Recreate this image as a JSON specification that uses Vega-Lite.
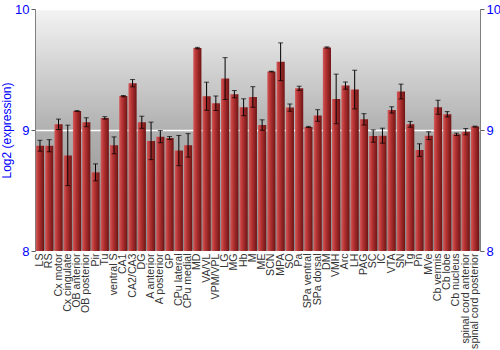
{
  "$schema": "https://vega.github.io/schema/vega-lite/v6.json",
  "autosize": {"type": "none"},
  "width": 445,
  "height": 242,
  "padding": {"left": 35, "top": 9, "right": 20, "bottom": 99},
  "background": "white",
  "config": {
    "font": "Liberation Sans",
    "view": {"stroke": "#808080", "strokeWidth": 1,
      "fill": {"gradient": "linear", "x1": 0, "y1": 0, "x2": 0, "y2": 1,
        "stops": [{"offset": 0, "color": "#f3f3f3"}, {"offset": 0.5, "color": "#b0b0b0"}, {"offset": 1, "color": "#888888"}]}}
  },
  "data": {"values": [
    {"region": "LS", "value": 8.87, "err": 0.045},
    {"region": "RS", "value": 8.87, "err": 0.05},
    {"region": "Cx motor", "value": 9.047, "err": 0.043},
    {"region": "Cx cingulate", "value": 8.79, "err": 0.25},
    {"region": "OB anterior", "value": 9.157, "err": 0.003},
    {"region": "OB posterior", "value": 9.064, "err": 0.037},
    {"region": "Pir", "value": 8.65, "err": 0.07},
    {"region": "Tu", "value": 9.10, "err": 0.01},
    {"region": "ventral S", "value": 8.873, "err": 0.07},
    {"region": "CA1", "value": 9.28, "err": 0.005},
    {"region": "CA2/CA3", "value": 9.387, "err": 0.03},
    {"region": "DG", "value": 9.064, "err": 0.05},
    {"region": "A anterior", "value": 8.91, "err": 0.155},
    {"region": "A posterior", "value": 8.945, "err": 0.05},
    {"region": "GP", "value": 8.934, "err": 0.012},
    {"region": "CPu lateral", "value": 8.83, "err": 0.125},
    {"region": "CPu medial", "value": 8.873, "err": 0.097},
    {"region": "MD", "value": 9.677, "err": 0.006},
    {"region": "VA/VL", "value": 9.279, "err": 0.116},
    {"region": "VPM/VPL", "value": 9.221, "err": 0.06},
    {"region": "LG", "value": 9.425, "err": 0.173},
    {"region": "MG", "value": 9.296, "err": 0.03},
    {"region": "Hb", "value": 9.188, "err": 0.07},
    {"region": "M", "value": 9.273, "err": 0.085},
    {"region": "ME", "value": 9.041, "err": 0.043},
    {"region": "SCN", "value": 9.483, "err": 0.003},
    {"region": "MPA", "value": 9.564, "err": 0.156},
    {"region": "SO", "value": 9.185, "err": 0.03},
    {"region": "Pa", "value": 9.345, "err": 0.017},
    {"region": "SPa ventral", "value": 9.025, "err": 0.005},
    {"region": "SPa dorsal", "value": 9.12, "err": 0.048},
    {"region": "DM", "value": 9.682, "err": 0.005},
    {"region": "VMH", "value": 9.257, "err": 0.205},
    {"region": "Arc", "value": 9.367, "err": 0.03},
    {"region": "LH", "value": 9.334, "err": 0.16},
    {"region": "PAG", "value": 9.088, "err": 0.047},
    {"region": "SC", "value": 8.95, "err": 0.051},
    {"region": "IC", "value": 8.953, "err": 0.062},
    {"region": "VTA", "value": 9.166, "err": 0.026},
    {"region": "SN", "value": 9.318, "err": 0.061},
    {"region": "Tg", "value": 9.047, "err": 0.024},
    {"region": "Pn", "value": 8.834, "err": 0.052},
    {"region": "MVe", "value": 8.953, "err": 0.032},
    {"region": "Cb vermis", "value": 9.188, "err": 0.058},
    {"region": "Cb lobe", "value": 9.13, "err": 0.022},
    {"region": "Cb nucleus", "value": 8.964, "err": 0.01},
    {"region": "spinal cord anterior", "value": 8.986, "err": 0.026},
    {"region": "spinal cord posterior", "value": 9.028, "err": 0.004}
  ]},
  "encoding": {
    "x": {"field": "region", "type": "nominal", "sort": null,
      "scale": {"paddingInner": 0.12, "paddingOuter": 0.1},
      "axis": {"title": null, "labelAngle": -90, "labelAlign": "right", "labelBaseline": "middle",
        "labelFontSize": 10.6, "labelColor": "#333333", "ticks": false, "domain": false, "labelPadding": 2, "labelOverlap": false}}
  },
  "layer": [
    {
      "mark": {"type": "bar", "clip": true,
        "color": {"gradient": "linear", "x1": 0, "y1": 0, "x2": 1, "y2": 0,
          "stops": [{"offset": 0, "color": "#d25a5a"}, {"offset": 0.35, "color": "#b83434"}, {"offset": 1, "color": "#6e1414"}]}},
      "encoding": {
        "y": {"field": "value", "type": "quantitative",
          "scale": {"domain": [8, 10], "zero": false, "nice": false},
          "axis": {"title": "Log2 (expression)", "titleColor": "#0000ff", "titleFontSize": 12, "titleFontWeight": "normal",
            "labelColor": "#0000ff", "labelFontSize": 13, "values": [8, 9, 10], "labelExpr": "format(datum.value, '.0f')", "labelOverlap": false,
            "tickColor": "#606060", "tickSize": 4,
            "domainColor": "#808080", "grid": true, "gridColor": "white", "gridWidth": 1.5, "titlePadding": 1, "labelPadding": 2}},
        "y2": {"datum": 8}
      }
    },
    {
      "mark": {"type": "errorbar", "ticks": {"size": 5, "color": "black"}, "color": "black", "thickness": 1},
      "encoding": {
        "y": {"field": "value", "type": "quantitative", "axis": null},
        "yError": {"field": "err"}
      }
    },
    {
      "mark": {"type": "rule", "opacity": 0},
      "encoding": {
        "y": {"field": "value", "type": "quantitative",
          "axis": {"orient": "right", "title": null, "labelColor": "#0000ff", "labelFontSize": 13, "values": [8, 9, 10],
            "labelExpr": "format(datum.value, '.0f')", "labelOverlap": false,
            "tickColor": "#606060", "tickSize": 4, "domainColor": "#808080", "grid": false, "labelPadding": 2}}
      }
    }
  ],
  "resolve": {"axis": {"y": "independent"}}
}
